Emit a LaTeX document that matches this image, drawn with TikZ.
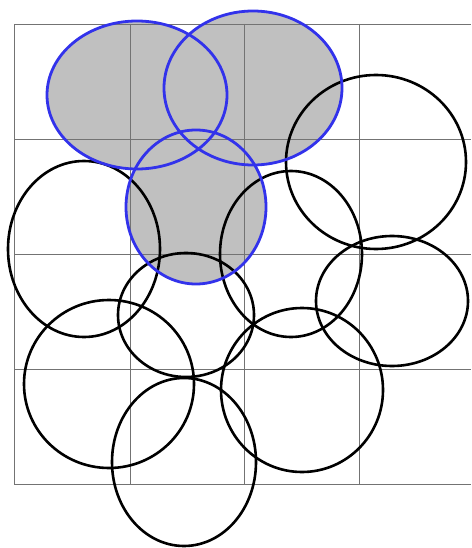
\documentclass[tikz,border=0pt]{standalone}
\begin{document}
\begin{tikzpicture}[x=1pt,y=-1pt,
  gridline/.style={draw=black!55,line width=0.8pt},
  ring/.style={draw=black,line width=2.6pt},
  bluering/.style={draw={rgb,255:red,50;green,50;blue,235},line width=2.8pt},
  shade/.style={fill={rgb,255:red,192;green,192;blue,192}}]
\useasboundingbox (0,0) rectangle (471,548);
% gray union
\fill[shade] (137,95) ellipse [x radius=90,y radius=74];
\fill[shade] (253,88) ellipse [x radius=89,y radius=77];
\fill[shade] (196,207) ellipse [x radius=70,y radius=77];
% grid
\foreach \gx in {14,130,244,359} \draw[gridline] (\gx,24) -- (\gx,484);
\foreach \gy in {24,139,254,369,484} \draw[gridline] (14,\gy) -- (471,\gy);
% black circles
\draw[ring] (376,162) ellipse [x radius=90,y radius=87];
\draw[ring] (84,249) ellipse [x radius=76,y radius=88];
\draw[ring] (291,254) ellipse [x radius=71,y radius=83];
\draw[ring] (392,301) ellipse [x radius=76,y radius=65];
\draw[ring] (186,315) ellipse [x radius=68,y radius=62];
\draw[ring] (109,384) ellipse [x radius=85,y radius=84];
\draw[ring] (184,462) ellipse [x radius=72,y radius=84];
\draw[ring] (302,390) ellipse [x radius=81,y radius=82];
% blue circles
\draw[bluering] (137,95) ellipse [x radius=90,y radius=74];
\draw[bluering] (253,88) ellipse [x radius=89,y radius=77];
\draw[bluering] (196,207) ellipse [x radius=70,y radius=77];
\end{tikzpicture}
\end{document}
